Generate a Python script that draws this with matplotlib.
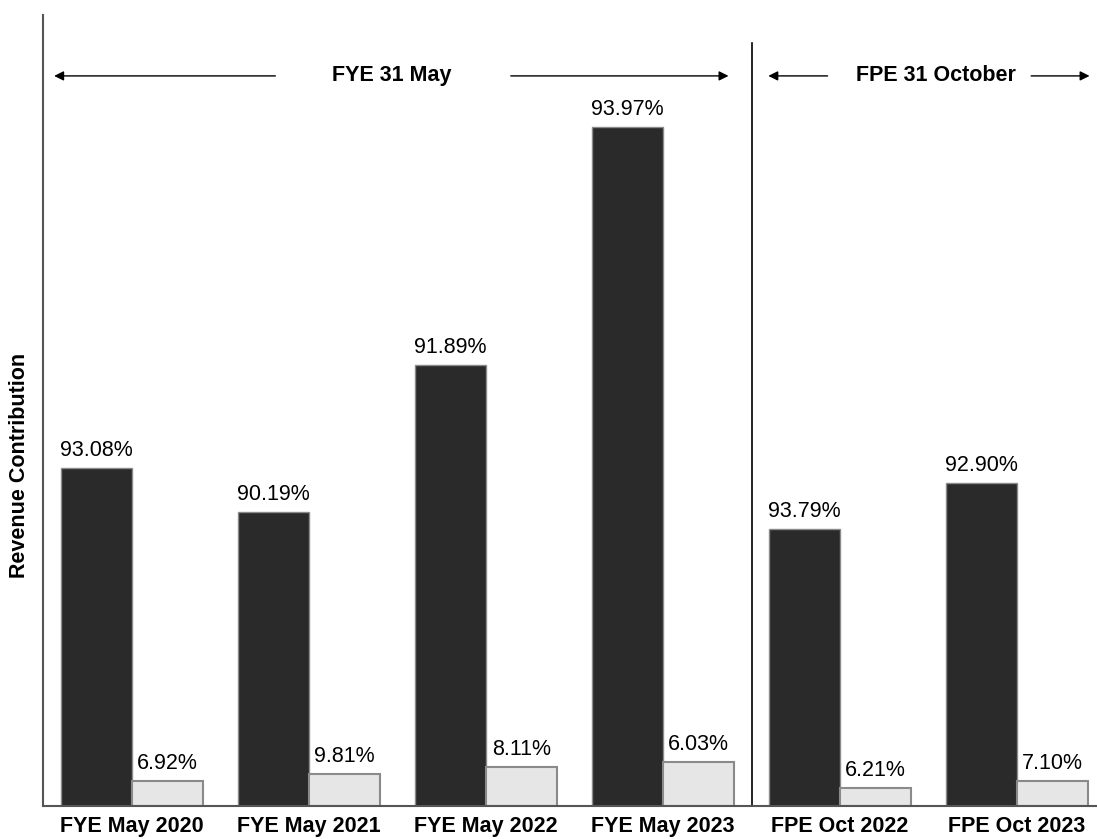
import numpy as np
import matplotlib.pyplot as plt

plt.rcParams['font.family'] = ['Liberation Sans', 'DejaVu Sans']

# periods and revenue split
periods = ["FYE May 2020", "FYE May 2021", "FYE May 2022", "FYE May 2023",
           "FPE Oct 2022", "FPE Oct 2023"]
total_revenue = [363, 326, 480, 723, 295, 348]
main_pct = [93.08, 90.19, 91.89, 93.97, 93.79, 92.90]
other_pct = [6.92, 9.81, 8.11, 6.03, 6.21, 7.10]

main_rev = np.array(total_revenue) * np.array(main_pct) / 100
other_rev = np.array(total_revenue) * np.array(other_pct) / 100

fs = 15.5

fig = plt.figure(figsize=(10.97, 8.39), dpi=100)
ax = fig.add_axes([43 / 1097, 33 / 839, 1054 / 1097, 791 / 839])

x = np.arange(len(periods))
w = 0.4
b1 = ax.bar(x - w / 2, main_rev, w, color='#2a2a2a', edgecolor='#8a8a8a', linewidth=1)
b2 = ax.bar(x + w / 2, other_rev, w, color='#e6e6e6', edgecolor='#8a8a8a', linewidth=1.5)

for bars, pcts in ((b1, main_pct), (b2, other_pct)):
    for r, p in zip(bars, pcts):
        ax.annotate(f"{p:.2f}%", (r.get_x() + r.get_width() / 2, r.get_height()),
                    xytext=(0, 5), textcoords='offset points',
                    ha='center', va='bottom', fontsize=fs)

ax.set_xlim(-0.503, 5.452)
ax.set_ylim(0, 791)
ax.set_xticks(x)
ax.set_xticklabels(periods, fontsize=fs, fontweight='bold')
ax.tick_params(axis='x', length=0, pad=7)
ax.set_yticks([])
ax.set_ylabel("Revenue Contribution", fontsize=fs, fontweight='bold')
ax.yaxis.set_label_coords(-0.012, 0.431)

for s in ('top', 'right'):
    ax.spines[s].set_visible(False)
for s in ('left', 'bottom'):
    ax.spines[s].set_color('#555555')
    ax.spines[s].set_linewidth(1.5)

# divider between financial year and financial period
ax.axvline(3.5, ymin=0, ymax=0.965, color='black', linewidth=1.2)

# period headers with arrows
ya = 0.923
trans = ax.get_xaxis_transform()
arrow = dict(arrowstyle='-|>', color='black', lw=1, mutation_scale=14, shrinkA=0, shrinkB=0)
ax.annotate('', xy=(-0.44, ya), xytext=(0.81, ya), xycoords=trans, arrowprops=arrow)
ax.annotate('', xy=(3.37, ya), xytext=(2.14, ya), xycoords=trans, arrowprops=arrow)
ax.text(1.47, ya, "FYE 31 May", transform=trans, ha='center', va='center',
        fontsize=fs, fontweight='bold')

ax.annotate('', xy=(3.595, ya), xytext=(3.93, ya), xycoords=trans, arrowprops=arrow)
ax.annotate('', xy=(5.41, ya), xytext=(5.08, ya), xycoords=trans, arrowprops=arrow)
ax.text(4.54, ya, "FPE 31 October", transform=trans, ha='center', va='center',
        fontsize=fs, fontweight='bold')

fig.savefig("out.png", dpi=100)
